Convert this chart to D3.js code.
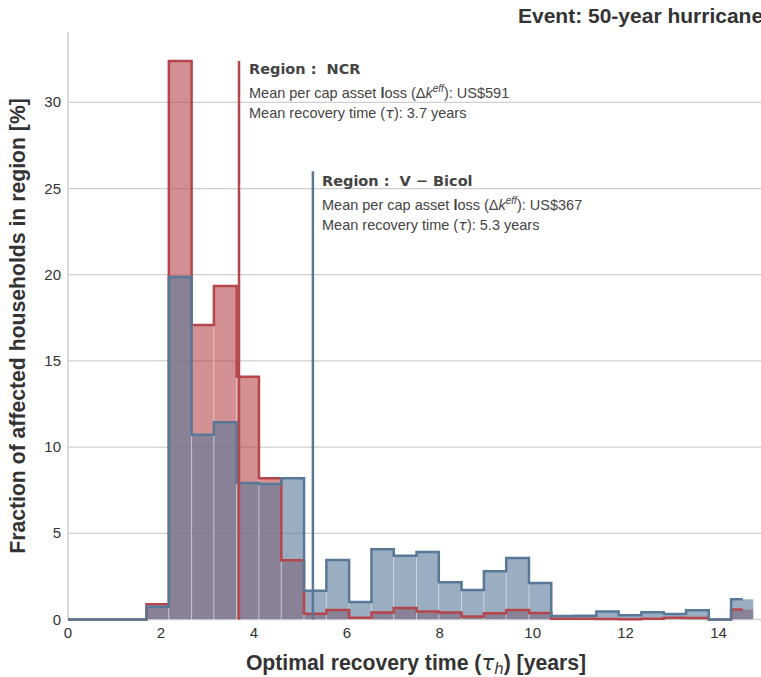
<!DOCTYPE html>
<html>
<head>
<meta charset="utf-8">
<script src="https://cdn.jsdelivr.net/npm/d3@7"></script>
<style>
  html, body { margin: 0; padding: 0; background: #fff; overflow: hidden; }
  svg { display: block; }
</style>
</head>
<body>
<svg id="chart" width="761" height="677"></svg>
<script>
// Histogram bin edges (years).
const binEdges = [1.69, 2.17, 2.66, 3.14, 3.63, 4.11, 4.59, 5.08, 5.56, 6.05,
  6.53, 7.01, 7.50, 7.98, 8.47, 8.95, 9.43, 9.92, 10.40, 10.89, 11.37, 11.85,
  12.34, 12.82, 13.30, 13.79, 14.27, 14.75];

// Share of affected households per bin [%].
const ncrValues = [0.88, 32.40, 17.08, 19.34, 14.08, 8.19, 3.43, 0.34, 0.55,
  0.10, 0.40, 0.67, 0.47, 0.40, 0.18, 0.36, 0.55, 0.38, 0.05, 0.05, 0.03, 0.02,
  0.05, 0.10, 0.08, 0.00, 0.58];
const bicolValues = [0.74, 19.87, 10.72, 11.44, 7.92, 7.86, 8.19, 1.67, 3.45,
  1.02, 4.07, 3.70, 3.92, 2.16, 1.71, 2.80, 3.57, 2.12, 0.20, 0.22, 0.47, 0.24,
  0.42, 0.32, 0.53, 0.00, 1.18];

// Mean recovery time markers and the top of each marker line.
const ncrMean = 3.68;
const ncrMarkerTop = 32.4;
const bicolMean = 5.27;
const bicolMarkerTop = 26.0;
// The step outline stops halfway through the last bin.
const outlineEnd = 14.52;

const xTicks = [0, 2, 4, 6, 8, 10, 12, 14];
const yTicks = [0, 5, 10, 15, 20, 25, 30];

const titleText = 'Event: 50-year hurricane';
const yLabelText = 'Fraction of affected households in region [%]';

const red = '#b5464b';
const blue = '#587898';
const gridColor = '#cfcfcf';
const textColor = '#333';

const margin = {left: 68, top: 32, bottom: 619.5, right: 765};

const x = d3.scaleLinear().domain([0, 15]).range([margin.left, margin.right]);
const y = d3.scaleLinear().domain([0, 34.08]).range([margin.bottom, margin.top]);

const svg = d3.select('#chart');

// Horizontal gridlines.
svg.append('g')
    .selectAll('line')
    .data(yTicks)
    .join('line')
    .attr('x1', margin.left)
    .attr('x2', margin.right)
    .attr('y1', d => y(d))
    .attr('y2', d => y(d))
    .attr('stroke', gridColor)
    .attr('stroke-width', 1.3);

// Left spine.
svg.append('line')
    .attr('x1', x(0)).attr('x2', x(0))
    .attr('y1', y(0)).attr('y2', y(34.08))
    .attr('stroke', gridColor)
    .attr('stroke-width', 1.5);

// Tick labels.
svg.append('g')
    .selectAll('text')
    .data(yTicks)
    .join('text')
    .attr('x', 61)
    .attr('y', d => y(d) + 5)
    .attr('text-anchor', 'end')
    .attr('font-family', 'Liberation Sans, Arial, sans-serif')
    .attr('font-size', 15)
    .attr('fill', textColor)
    .text(d => d);

svg.append('g')
    .selectAll('text')
    .data(xTicks)
    .join('text')
    .attr('x', d => x(d))
    .attr('y', 638)
    .attr('text-anchor', 'middle')
    .attr('font-family', 'Liberation Sans, Arial, sans-serif')
    .attr('font-size', 15)
    .attr('fill', textColor)
    .text(d => d);

/** Builds per-bin rows for one series. */
function bins(values) {
  return values.map((v, i) => ({x0: binEdges[i], x1: binEdges[i + 1], v}));
}

/** Step outline path, starting at the origin along the baseline. */
function stepPath(values) {
  const pts = [[0, 0], [binEdges[0], 0]];
  values.forEach((v, i) => {
    const x1 = i === values.length - 1 ? outlineEnd : binEdges[i + 1];
    pts.push([binEdges[i], v], [x1, v]);
  });
  return d3.line().x(d => x(d[0])).y(d => y(d[1]))(pts);
}

function drawFill(values, color) {
  svg.append('g')
      .selectAll('rect')
      .data(bins(values))
      .join('rect')
      .attr('x', d => x(d.x0))
      .attr('width', d => x(d.x1) - x(d.x0))
      .attr('y', d => y(d.v))
      .attr('height', d => y(0) - y(d.v))
      .attr('fill', color)
      .attr('fill-opacity', 0.6)
      .attr('stroke', 'rgba(255,255,255,0.3)')
      .attr('stroke-width', 1);
}

function drawOutline(values, color) {
  svg.append('path')
      .attr('d', stepPath(values))
      .attr('fill', 'none')
      .attr('stroke', color)
      .attr('stroke-width', 2.5)
      .attr('stroke-linejoin', 'miter');
}

drawFill(ncrValues, red);
drawFill(bicolValues, blue);
drawOutline(ncrValues, red);
drawOutline(bicolValues, blue);

// Mean recovery time markers.
[[ncrMean, ncrMarkerTop, red], [bicolMean, bicolMarkerTop, blue]].forEach(
    ([m, top, c]) => {
      svg.append('line')
          .attr('x1', x(m)).attr('x2', x(m))
          .attr('y1', y(0)).attr('y2', y(top))
          .attr('stroke', c)
          .attr('stroke-width', 2.5);
    });

/** Annotation block next to a mean marker. */
function annotate(x0, y0, region, loss, years) {
  const g = svg.append('g').attr('fill', '#444');
  g.append('text')
      .attr('x', x0).attr('y', y0)
      .attr('font-family', 'DejaVu Sans, sans-serif')
      .attr('font-weight', 'bold')
      .attr('font-size', 14.5)
      .attr('xml:space', 'preserve')
      .text('Region :  ' + region);

  const l1 = g.append('text')
      .attr('x', x0).attr('y', y0 + 24)
      .attr('font-family', 'Liberation Sans, Arial, sans-serif')
      .attr('font-size', 14.5);
  l1.append('tspan').text('Mean per cap asset ');
  l1.append('tspan').attr('font-weight', 'bold').text('l');
  l1.append('tspan').text('oss (Δ');
  l1.append('tspan').attr('font-style', 'italic').text('k');
  l1.append('tspan').attr('font-style', 'italic').attr('font-size', 10)
      .attr('dy', -6).text('eff');
  l1.append('tspan').attr('dy', 6).text('): US$' + loss);

  const l2 = g.append('text')
      .attr('x', x0).attr('y', y0 + 44)
      .attr('font-family', 'Liberation Sans, Arial, sans-serif')
      .attr('font-size', 14.5);
  l2.append('tspan').text('Mean recovery time (');
  l2.append('tspan').attr('font-family', 'DejaVu Sans, sans-serif')
      .attr('font-style', 'italic').text('τ');
  l2.append('tspan').text('): ' + years + ' years');
}

annotate(249, 73.5, 'NCR', 591, 3.7);
annotate(322, 185.5, 'V − Bicol', 367, 5.3);

// Title, partly cut by the right edge as in the figure.
svg.append('text')
    .attr('x', 518).attr('y', 23)
    .attr('font-family', 'Liberation Sans, Arial, sans-serif')
    .attr('font-weight', 'bold')
    .attr('font-size', 21)
    .attr('fill', textColor)
    .text(titleText);

// Axis labels.
const xl = svg.append('text')
    .attr('x', 416).attr('y', 670)
    .attr('text-anchor', 'middle')
    .attr('font-family', 'Liberation Sans, Arial, sans-serif')
    .attr('font-weight', 'bold')
    .attr('font-size', 21.2)
    .attr('fill', textColor);
xl.append('tspan').text('Optimal recovery time (');
xl.append('tspan').attr('font-family', 'DejaVu Sans, sans-serif')
    .attr('font-weight', 'normal').attr('font-style', 'italic').text('τ');
xl.append('tspan').attr('font-family', 'DejaVu Sans, sans-serif')
    .attr('font-weight', 'normal').attr('font-style', 'italic')
    .attr('font-size', 15).attr('dy', 4).text('h');
xl.append('tspan').attr('dy', -4).text(') [years]');

svg.append('text')
    .attr('transform', 'translate(25,326) rotate(-90)')
    .attr('text-anchor', 'middle')
    .attr('font-family', 'Liberation Sans, Arial, sans-serif')
    .attr('font-weight', 'bold')
    .attr('font-size', 21.2)
    .attr('fill', textColor)
    .text(yLabelText);
</script>
</body>
</html>
